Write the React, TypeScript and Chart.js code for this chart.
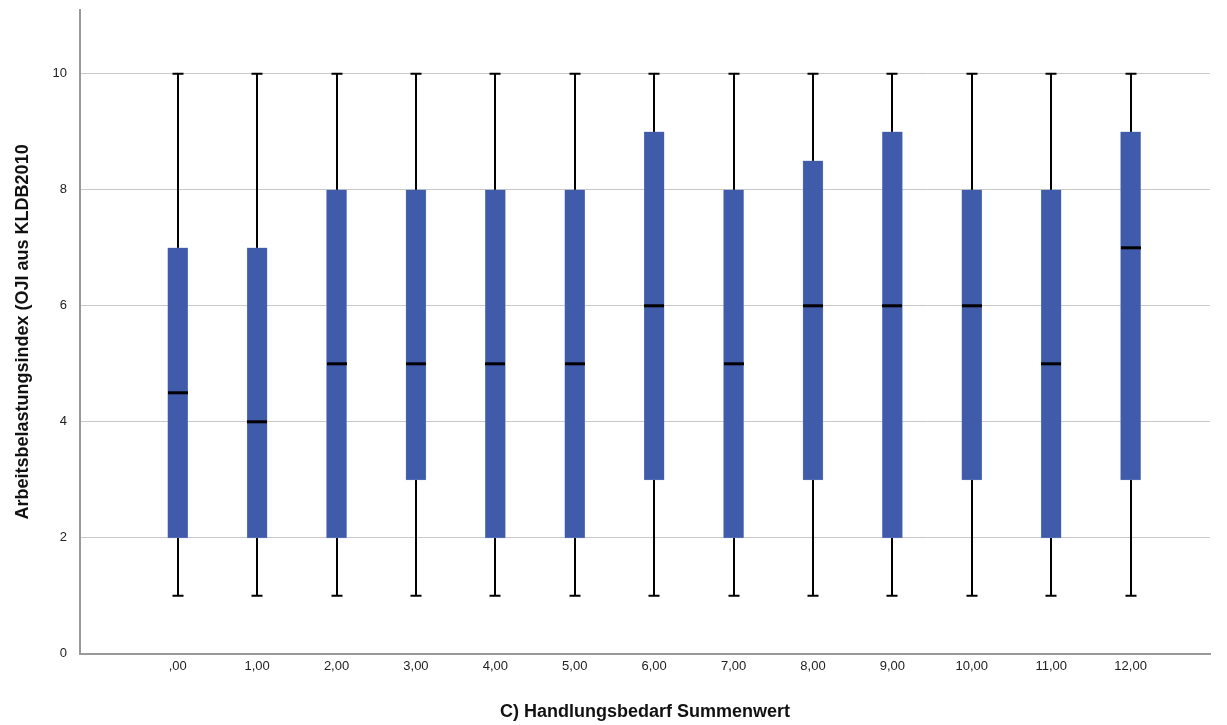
import React, { useEffect, useRef } from "react";
import { Chart, registerables } from "chart.js";

Chart.register(...registerables);

const categories = [",00", "1,00", "2,00", "3,00", "4,00", "5,00", "6,00", "7,00", "8,00", "9,00", "10,00", "11,00", "12,00"];
const mins = [1, 1, 1, 1, 1, 1, 1, 1, 1, 1, 1, 1, 1];
const q1s = [2, 2, 2, 3, 2, 2, 3, 2, 3, 2, 3, 2, 3];
const medians = [4.5, 4, 5, 5, 5, 5, 6, 5, 6, 6, 6, 5, 7];
const q3s = [7, 7, 8, 8, 8, 8, 9, 8, 8.5, 9, 8, 8, 9];
const maxs = [10, 10, 10, 10, 10, 10, 10, 10, 10, 10, 10, 10, 10];
const yTicks = [0, 2, 4, 6, 8, 10];

const BOX_COLOR = "#3F5BA9";

const whiskerPlugin = {
  id: "whiskers",
  beforeDatasetsDraw(chart: any) {
    const { ctx, scales } = chart;
    const xs = scales.x;
    const ys = scales.y;
    ctx.save();
    ctx.strokeStyle = "#000";
    ctx.lineWidth = 2;
    categories.forEach((_, i) => {
      const px = Math.round(xs.getPixelForValue(i));
      const yMin = ys.getPixelForValue(mins[i]);
      const yMax = ys.getPixelForValue(maxs[i]);
      ctx.beginPath();
      ctx.moveTo(px, yMin);
      ctx.lineTo(px, yMax);
      ctx.stroke();
      ctx.beginPath();
      ctx.moveTo(px - 5.5, yMin);
      ctx.lineTo(px + 5.5, yMin);
      ctx.moveTo(px - 5.5, yMax);
      ctx.lineTo(px + 5.5, yMax);
      ctx.stroke();
    });
    ctx.restore();
  },
  afterDatasetsDraw(chart: any) {
    const { ctx, scales } = chart;
    const xs = scales.x;
    const ys = scales.y;
    ctx.save();
    ctx.strokeStyle = "#000";
    ctx.lineWidth = 3;
    categories.forEach((_, i) => {
      const px = Math.round(xs.getPixelForValue(i));
      const yMed = ys.getPixelForValue(medians[i]);
      ctx.beginPath();
      ctx.moveTo(px - 10, yMed);
      ctx.lineTo(px + 10, yMed);
      ctx.stroke();
    });
    ctx.restore();
  },
};

export default function App() {
  const ref = useRef<HTMLCanvasElement | null>(null);
  useEffect(() => {
    if (!ref.current) return;
    const chart = new Chart(ref.current, {
      type: "bar",
      data: {
        datasets: [
          {
            data: categories.map((_, i) => ({ x: i, y: [q1s[i], q3s[i]] })) as any,
            backgroundColor: BOX_COLOR,
            borderColor: "#7f94cf",
            borderWidth: 0.5,
            borderSkipped: false,
            barThickness: 20,
          },
        ],
      },
      options: {
        animation: false,
        responsive: true,
        maintainAspectRatio: false,
        layout: { padding: { top: 10, right: 17, left: 12, bottom: 2 } },
        plugins: { legend: { display: false }, tooltip: { enabled: false } },
        scales: {
          x: {
            type: "linear",
            offset: false,
            min: -1.23,
            max: 13,
            afterBuildTicks: (axis: any) => {
              axis.ticks = categories.map((_, i) => ({ value: i }));
            },
            ticks: {
              callback: (v: any) => categories[v] ?? "",
              color: "#222",
              font: { family: "'Liberation Sans', Arial, sans-serif", size: 13 },
              padding: 5,
              maxRotation: 0,
              autoSkip: false,
            },
            grid: { display: false, drawTicks: false, offset: false },
            border: { display: true, color: "#999", width: 2 },
            title: {
              display: true,
              text: "C) Handlungsbedarf Summenwert",
              color: "#111",
              font: { family: "'Liberation Sans', Arial, sans-serif", size: 18, weight: "bold" },
              padding: { top: 22, bottom: 0 },
            },
          },
          y: {
            type: "linear",
            min: 0,
            max: 11.1,
            afterBuildTicks: (axis: any) => {
              axis.ticks = yTicks.map((v) => ({ value: v }));
            },
            ticks: {
              color: "#222",
              font: { family: "'Liberation Sans', Arial, sans-serif", size: 13 },
              padding: 0,
            },
            grid: { color: "#c8c8c8", lineWidth: 1, drawTicks: true, tickLength: 13, tickColor: "rgba(0,0,0,0)" },
            border: { display: true, color: "#999", width: 2 },
            title: {
              display: true,
              text: "Arbeitsbelastungsindex (OJI aus KLDB2010",
              color: "#111",
              font: { family: "'Liberation Sans', Arial, sans-serif", size: 18, weight: "bold" },
              padding: { top: 0, bottom: 19 },
            },
          },
        },
      } as any,
      plugins: [whiskerPlugin],
    });
    return () => chart.destroy();
  }, []);
  return (
    <div style={{ position: "fixed", left: 0, top: 0, width: 1227, height: 725, background: "#fff" }}>
      <canvas ref={ref} />
    </div>
  );
}
